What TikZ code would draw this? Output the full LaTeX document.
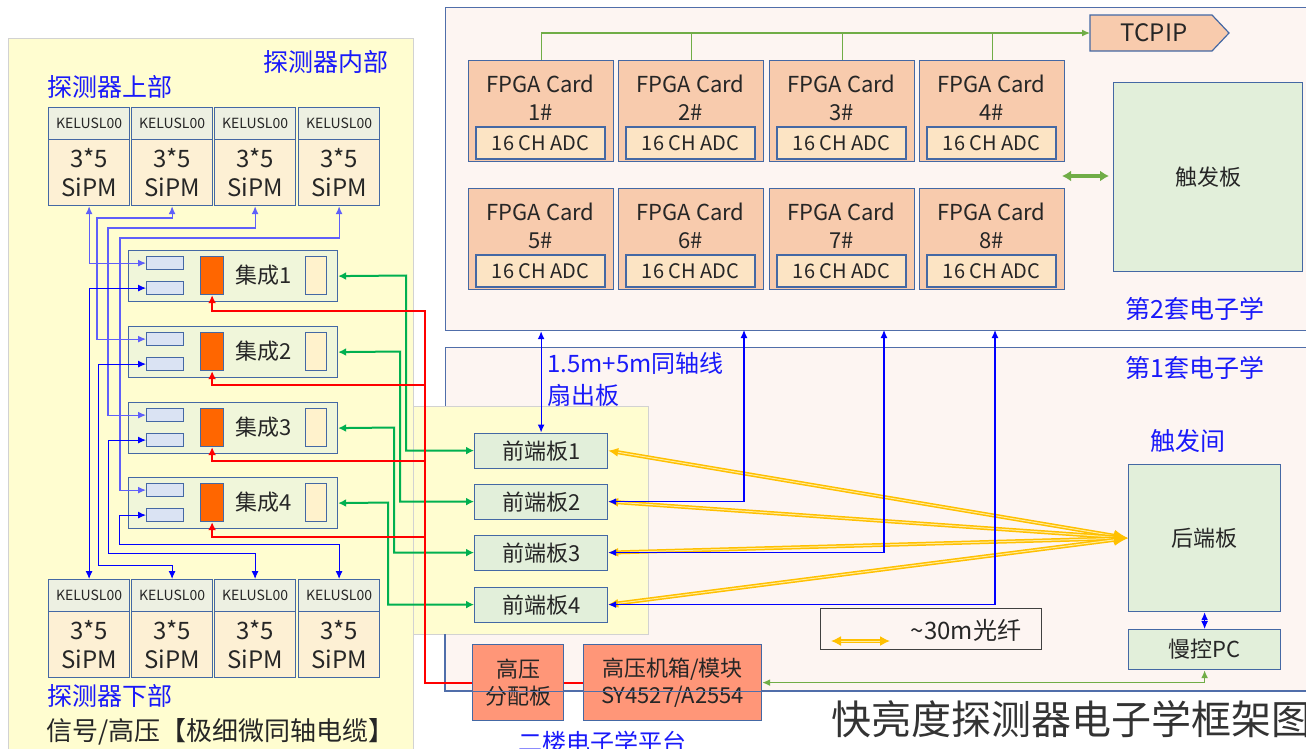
\documentclass[tikz,border=0pt]{standalone}
\usepackage{fontspec}
\setmainfont{Noto Sans CJK SC}
\usetikzlibrary{arrows.meta}
\definecolor{bord}{RGB}{68,104,164}
\definecolor{pbord}{RGB}{80,110,170}
\definecolor{panelfill}{RGB}{253,245,242}
\definecolor{yel}{RGB}{255,253,208}
\definecolor{peach}{RGB}{248,203,173}
\definecolor{adcfill}{RGB}{252,228,196}
\definecolor{lgreen}{RGB}{226,239,218}
\definecolor{jcfill}{RGB}{240,246,218}
\definecolor{sblue}{RGB}{218,227,243}
\definecolor{cream}{RGB}{255,242,204}
\definecolor{hdr}{RGB}{237,240,226}
\definecolor{sipmfill}{RGB}{253,240,212}
\definecolor{hv}{RGB}{255,150,120}
\definecolor{org}{RGB}{255,102,0}
\definecolor{gline}{RGB}{0,176,80}
\definecolor{gline2}{RGB}{112,173,71}
\definecolor{gold}{RGB}{255,192,0}
\definecolor{goldin}{RGB}{255,236,160}
\definecolor{lblue}{RGB}{25,25,250}
\definecolor{txt}{RGB}{38,38,38}
\definecolor{wblue}{RGB}{0,0,255}
\definecolor{wblue2}{RGB}{95,95,250}
\newcommand\myfs[2]{\fontsize{#1}{#2}\selectfont}
\tikzset{
  bx/.style={draw=bord, line width=1.2pt, inner sep=0pt, anchor=north west, text=txt, align=center},
  lbl/.style={inner sep=0pt, text=txt, align=center},
  bl/.style={inner sep=0pt, text=lblue, font=\myfs{25}{30}},
  fpga/.style={bx, fill=peach, minimum width=145pt, minimum height=101pt},
  adc/.style={bx, anchor=center, fill=adcfill, minimum width=129pt, minimum height=32pt, font=\myfs{20}{24}},
  wt/.style={draw=wblue2, line width=1.2pt, {Latex[length=8pt,width=7pt]}-{Latex[length=8pt,width=7pt]}},
  wb/.style={draw=wblue, line width=1pt, {Latex[length=8pt,width=7pt]}-{Latex[length=8pt,width=7pt]}},
  rw/.style={draw=red, line width=2pt, -{Latex[length=8pt,width=8pt]}},
  gw/.style={draw=gline, line width=2pt, {Latex[length=8pt,width=8pt]}-{Latex[length=8pt,width=8pt]}},
  cw/.style={draw=wblue, line width=1.2pt, {Latex[length=8pt,width=7pt]}-{Latex[length=8pt,width=7pt]}},
  fib/.style={draw=gold, double=goldin, double distance=1pt, line width=1.5pt},
  bus/.style={draw=gline2, line width=1.2pt}
}
\begin{document}
\begin{tikzpicture}[x=1pt,y=-1pt]
\useasboundingbox (0,0) rectangle (1306,748);
% panels
\node[bx, fill=panelfill, draw=pbord, minimum width=880pt, minimum height=323pt] (p2) at (445,7) {};
\node[bx, fill=panelfill, draw=pbord, minimum width=880pt, minimum height=343pt] (p1) at (445,347) {};
\node[bx, fill=yel, draw=gray!35, minimum width=405pt, minimum height=730pt] (lp) at (8,38) {};
\node[bx, fill=yel, draw=gray!35, minimum width=235pt, minimum height=228pt] (mp) at (413,406) {};

% labels
\node[bl] (lin) at (326,62) {探测器内部};
\node[bl, anchor=west] (lup) at (47,87) {探测器上部};
\node[bl, anchor=west] (ldn) at (47,696) {探测器下部};
\node[lbl, anchor=west, font=\myfs{26}{30}] (lsig) at (46,732) {信号/高压【极细微同轴电缆】};
\node[bl] (l2) at (1195,309) {第2套电子学};
\node[bl] (l1) at (1195,368) {第1套电子学};
\node[bl] (ltr) at (1188,441) {触发间};
\node[bl, anchor=west, font=\myfs{24}{28}] (lcoax) at (547,363) {1.5m+5m同轴线};
\node[bl, anchor=west, font=\myfs{24}{28}] (lfan) at (547,395) {扇出板};
\node[bl, font=\myfs{24}{28}] (lfloor) at (602,742) {二楼电子学平台};
\node[lbl, anchor=west, font=\myfs{40}{44}, text=black!80] (title) at (831,719) {快亮度探测器电子学框架图};

% FPGA cards
\foreach \i/\x/\y in {1/468/60, 2/618/60, 3/769/60, 4/919/60, 5/468/188, 6/618/188, 7/769/188, 8/919/188}{
  \node[fpga] (card\i) at (\x,\y) {};
  \node[lbl, font=\myfs{22}{28}] (cardt\i) at ({\x+72.5},{\y+38}) {FPGA Card\\\i\#};
  \node[adc] (adc\i) at ({\x+72.5},{\y+83}) {16 CH ADC};
}
% TCPIP
\filldraw[fill=peach, draw=bord, line width=1.2pt] (1090,15) -- (1212,15) -- (1229,33) -- (1212,51) -- (1090,51) -- cycle;
\node[lbl, minimum width=122pt, minimum height=36pt, font=\myfs{24}{28}] (tcpip) at (1154,33) {TCPIP};
\coordinate (tcpin) at (1090,33);
\draw[bus, -{Latex[length=8pt,width=7pt]}] (card1.north) |- (tcpin);
\foreach \i in {2,3,4} \draw[bus] (card\i.north) -- (card\i.north |- tcpin);

% trigger board
\node[bx, fill=lgreen, minimum width=189pt, minimum height=189pt, font=\myfs{22}{26}] (trig) at (1113,82) {触发板};
\coordinate (ga) at (1062,176);
\coordinate (gb) at (1109,176);
\draw[draw=gline2, line width=3.5pt, {Latex[length=9pt,width=11pt]}-{Latex[length=9pt,width=11pt]}] (ga) -- (gb);

% back end and PC
\node[bx, fill=lgreen, minimum width=152pt, minimum height=147pt, font=\myfs{22}{26}] (be) at (1128,464) {后端板};
\node[bx, fill=lgreen, minimum width=152pt, minimum height=40pt, font=\myfs{22}{26}] (pc) at (1128,629) {慢控PC};

% front-end boards
\foreach \i/\y in {1/432.5,2/483.5,3/534.5,4/586.5}
  \node[bx, fill=lgreen, minimum width=133pt, minimum height=35pt, font=\myfs{22}{26}] (fe\i) at (474,\y) {前端板\i};

% legend
\node[bx, draw=black!75, minimum width=221pt, minimum height=41pt] (leg) at (820,608) {};
\node[lbl, font=\myfs{24}{28}] (legt) at (966,630) {\textasciitilde30m光纤};
\coordinate (la) at (831,641);
\coordinate (lb) at (890,641);
\draw[fib, {Latex[length=10pt,width=10pt]}-{Latex[length=10pt,width=10pt]}] (la) -- (lb);

% HV
\node[bx, fill=hv, minimum width=91pt, minimum height=76pt, font=\myfs{22}{27}] (hvd) at (472,644) {高压\\分配板};
\node[bx, fill=hv, minimum width=178pt, minimum height=76pt, font=\myfs{22}{27}] (hvm) at (583,644) {高压机箱/模块\\SY4527/A2554};
\draw[draw=pbord, line width=1.2pt] (445,634) -- (p1.south west) -- (p1.south east);

% SiPM blocks
\foreach \i/\x in {1/48,2/131,3/214,4/298}{
  \node[bx, fill=hdr, minimum width=81pt, minimum height=32pt, font=\myfs{14}{16}] (sth\i) at (\x,107) {KELUSL00};
  \node[bx, fill=sipmfill, minimum width=81pt, minimum height=66pt, font=\myfs{24}{29}] (st\i) at (\x,139) {3*5\\SiPM};
  \node[bx, fill=hdr, minimum width=81pt, minimum height=32pt, font=\myfs{14}{16}] (sbh\i) at (\x,579) {KELUSL00};
  \node[bx, fill=sipmfill, minimum width=81pt, minimum height=66pt, font=\myfs{24}{29}] (sb\i) at (\x,611) {3*5\\SiPM};
}

% integration boards
\foreach \i/\y in {1/250,2/326,3/402,4/477}{
  \node[bx, fill=jcfill, minimum width=209pt, minimum height=51pt] (j\i) at (128,\y) {};
  \node[bx, fill=sblue, minimum width=37pt, minimum height=13pt] (ra\i) at (146,{\y+6}) {};
  \node[bx, fill=sblue, minimum width=37pt, minimum height=13pt] (rb\i) at (146,{\y+31}) {};
  \node[bx, fill=org, minimum width=23pt, minimum height=38pt] (o\i) at (200,{\y+6}) {};
  \node[lbl, font=\myfs{22}{26}] (jt\i) at (264,{\y+25.5}) {集成\i};
  \node[bx, fill=cream, minimum width=21pt, minimum height=38pt] (c\i) at (305,{\y+6}) {};
}

% blue wiring (top)
\draw[wt] (st1.south) |- (ra1.west);
\draw[wt] (st2.south) |- (97,218) |- (ra2.west);
\draw[wt] (st3.south) |- (108,228) |- (ra3.west);
\draw[wt] (st4.south) |- (120,238) |- (ra4.west);
% blue wiring (bottom)
\draw[wb] (rb1.west) -| (sbh1.north);
\draw[wb] (rb2.west) -| (98,565) -| (sbh2.north);
\draw[wb] (rb3.west) -| (108,553) -| (sbh3.north);
\draw[wb] (rb4.west) -| (119,544) -| (sbh4.north);

% green signal lines
\draw[gw] (j1.east) -- (406,275.5) |- (fe1.west);
\draw[gw] (j2.east) -- (400,351.5) |- (fe2.west);
\draw[gw] (j3.east) -- (394,427.5) |- (fe3.west);
\draw[gw] (j4.east) -- (388,502.5) |- (fe4.west);

% red HV lines
\draw[rw] (hvd.west) -| (425,311) -| (o1.south);
\foreach \i/\y in {2/385,3/461,4/537} \draw[rw] (425,\y) -| (o\i.south);
\draw[draw=red, line width=2pt] (hvd.east) -- (hvm.west);

% fibers
\foreach \i in {1,...,4}
  \draw[fib, {Latex[length=14pt,width=12pt]}-{Latex[length=10pt,width=9pt]}] (be.west) -- (fe\i.east);

% coax
\draw[cw] (fe1.north) -- (fe1.north |- p2.south);
\draw[cw] (fe2.east) -| (744,330);
\draw[cw] (fe3.east) -| (884,330);
\draw[cw] (fe4.east) -| (995,330);

% back end / PC / HV crate
\draw[cw] (be.south) -- (pc.north);
\draw[draw=gline2, line width=1.5pt, {Latex[length=8pt,width=7pt]}-{Latex[length=8pt,width=7pt]}] (pc.south) |- (hvm.east);
\end{tikzpicture}
\end{document}
